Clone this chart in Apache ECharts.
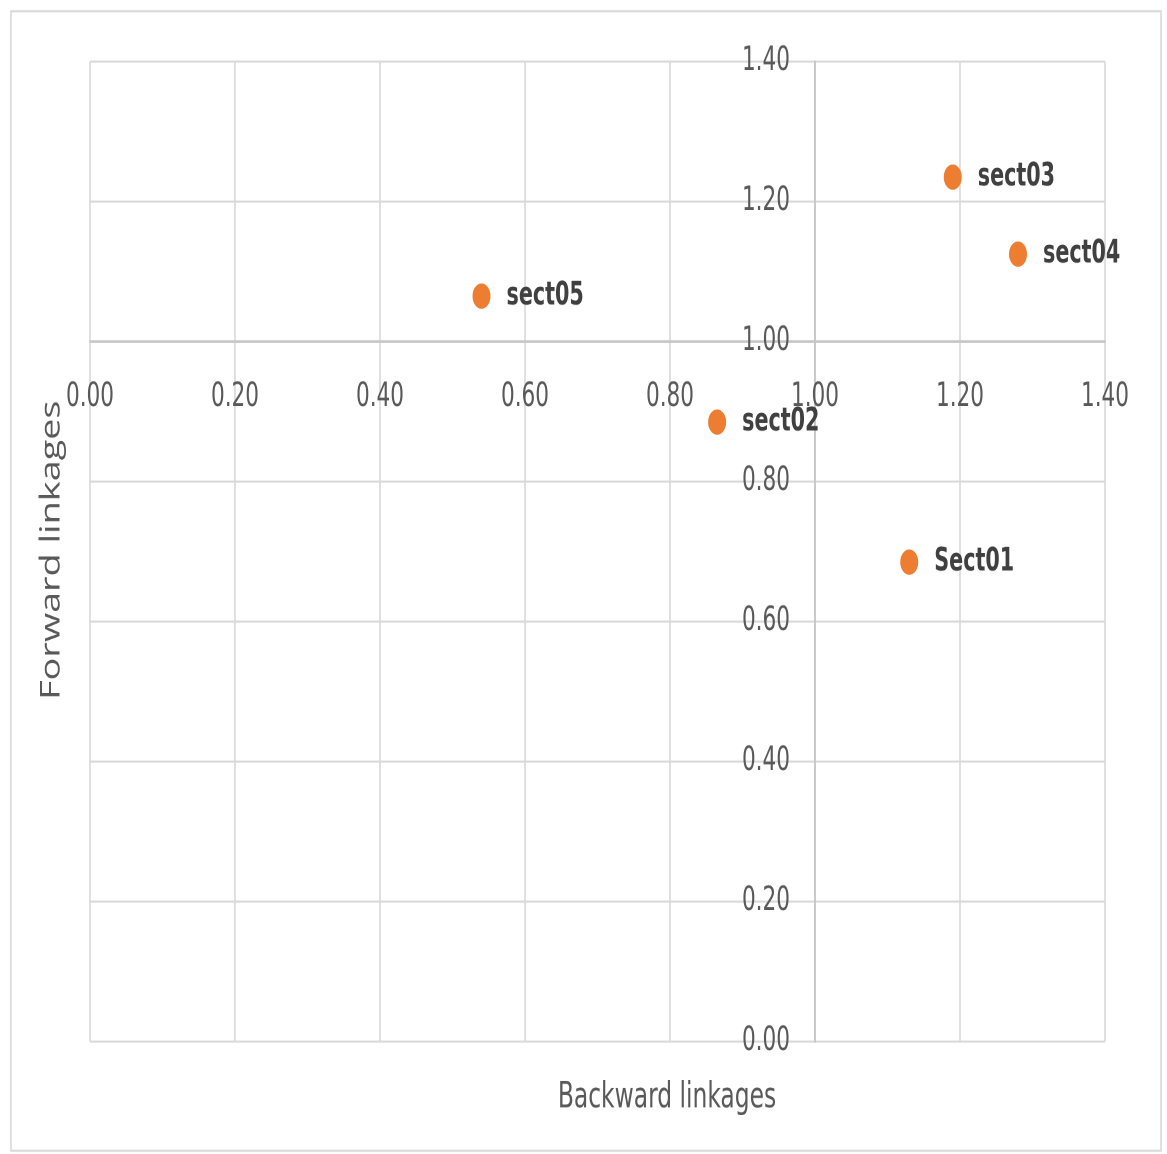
<!DOCTYPE html>
<html>
<head>
<meta charset="utf-8">
<script src="https://cdn.jsdelivr.net/npm/echarts@6/dist/echarts.min.js"></script>
<style>
  html, body { margin: 0; padding: 0; background: #fff; }
  #wrap { width: 1167px; height: 1154px; position: relative; }
  /* the source picture is stretched vertically, so draw short and stretch */
  #chart { position: absolute; left: 0; top: 0; width: 1167px; height: 824px; transform: scaleY(1.4); transform-origin: 0 0; }
</style>
</head>
<body>
<div id="wrap"><div id="chart"></div></div>
<script>
// sectors and their linkage indices
var sectors = ['Sect01', 'sect02', 'sect03', 'sect04', 'sect05'];
var backward = [1.13, 0.865, 1.19, 1.28, 0.54];
var forward = [0.685, 0.885, 1.235, 1.125, 1.065];
var axisMin = 0, axisMax = 1.4, axisStep = 0.2, crossAt = 1.0;

var narrow = "'DejaVu Sans Condensed', 'Liberation Sans Narrow', sans-serif";
var gridBox = { left: 90, top: 44, width: 1015, height: 700 };

// axes cross at 1.00, so shift them into the plot by that fraction
var xOffset = -gridBox.height * (crossAt - axisMin) / (axisMax - axisMin);
var yOffset = -gridBox.width * (crossAt - axisMin) / (axisMax - axisMin);

var points = sectors.map(function (name, i) {
  return { name: name, value: [backward[i], forward[i]] };
});

var chart = echarts.init(document.getElementById('chart'), null, { devicePixelRatio: 2 });

var gridLine = { lineStyle: { color: '#d9d9d9', width: 1.6 } };
var tickFmt = function (v) { return v.toFixed(2); };

chart.setOption({
  backgroundColor: '#fff',
  animation: false,
  grid: gridBox,
  xAxis: {
    type: 'value',
    min: axisMin, max: axisMax, interval: axisStep,
    position: 'bottom',
    offset: xOffset,
    axisLine: { show: true, onZero: false, lineStyle: { color: '#c6c6c6', width: 1.8 } },
    axisTick: { show: false },
    splitLine: gridLine,
    axisLabel: { margin: 28, color: '#595959', fontFamily: narrow, fontSize: 24, formatter: tickFmt }
  },
  yAxis: {
    type: 'value',
    min: axisMin, max: axisMax, interval: axisStep,
    position: 'left',
    offset: yOffset,
    axisLine: { show: true, onZero: false, lineStyle: { color: '#c6c6c6', width: 1.8 } },
    axisTick: { show: false },
    splitLine: gridLine,
    axisLabel: { margin: 25, color: '#595959', fontFamily: narrow, fontSize: 24, formatter: tickFmt }
  },
  series: [{
    type: 'scatter',
    data: points,
    symbol: 'circle',
    symbolSize: 18,
    itemStyle: { color: '#ed7d31', opacity: 1 },
    label: {
      show: true,
      position: 'right',
      distance: 16,
      formatter: '{b}',
      color: '#404040',
      fontFamily: narrow,
      fontWeight: 'bold',
      fontSize: 23
    }
  }],
  graphic: [
    {
      type: 'rect',
      shape: { x: 11, y: 8, width: 1150, height: 814 },
      style: { fill: 'none', stroke: '#d9d9d9', lineWidth: 1.6 },
      silent: true
    },
    {
      type: 'text',
      x: 52, y: 393,
      rotation: Math.PI / 2,
      style: {
        text: 'Forward linkages',
        fill: '#595959',
        font: "27px 'Open Sans', sans-serif",
        align: 'center',
        verticalAlign: 'middle'
      }
    },
    {
      type: 'text',
      x: 667, y: 784,
      style: {
        text: 'Backward linkages',
        fill: '#595959',
        font: "26px " + narrow,
        align: 'center',
        verticalAlign: 'middle'
      }
    }
  ]
});
</script>
</body>
</html>
